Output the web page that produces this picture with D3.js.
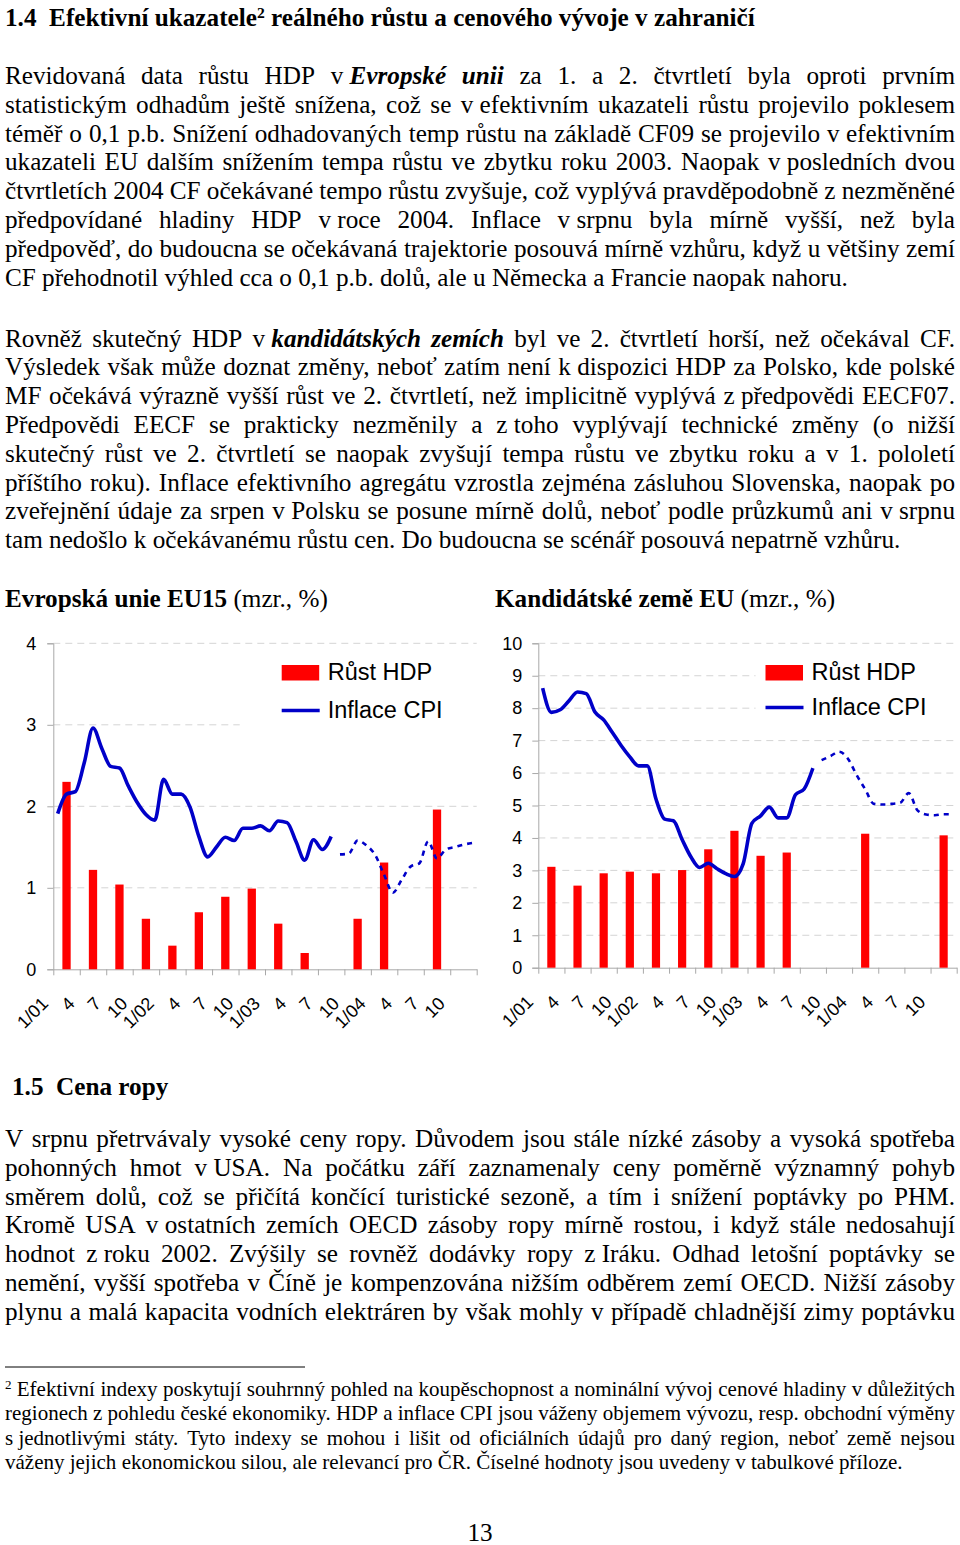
<!DOCTYPE html>
<html><head><meta charset="utf-8">
<script src="https://cdn.jsdelivr.net/npm/d3@7"></script>
<style>body{margin:0;background:#fff}svg{display:block}</style>
</head><body>
<script>
// ---------------- DATA ----------------
const tickLabels = ["1/01","4","7","10","1/02","4","7","10","1/03","4","7","10","1/04","4","7","10"];
const legendLabels = ["Růst HDP","Inflace CPI"];
// quarterly GDP growth (bars, drawn at mid-quarter month)
const euGdp = [2.30,1.22,1.04,0.62,0.29,0.70,0.89,0.99,0.56,0.20,null,0.62,1.31,null,1.96,null];
const ccGdp = [3.11,2.53,2.91,2.96,2.91,3.01,3.65,4.22,3.45,3.55,null,null,4.13,null,null,4.08];
// monthly CPI inflation, Jan 2001 - Aug 2003 (actual)
const euCpi = [1.91,2.15,2.18,2.53,2.96,2.71,2.49,2.47,2.25,2.05,1.90,1.83,2.33,2.15,2.15,1.99,1.63,1.38,1.50,1.62,1.58,1.73,1.73,1.76,1.70,1.82,1.80,1.57,1.34,1.59,1.47,1.63];
const ccCpi = [8.62,7.87,7.95,8.22,8.50,8.45,7.88,7.64,7.25,6.85,6.50,6.22,6.22,5.20,4.58,4.53,3.95,3.42,3.09,3.22,3.05,2.90,2.81,3.20,4.45,4.68,4.95,4.62,4.62,5.33,5.51,6.15];
// monthly CPI forecast, Sep 2003 - Dec 2004
const euCpiF = [1.41,1.42,1.58,1.52,1.40,1.16,0.94,1.10,1.26,1.30,1.57,1.36,1.47,1.50,1.53,1.55];
const ccCpiF = [6.40,6.52,6.66,6.45,5.95,5.50,5.05,5.03,5.05,5.08,5.38,4.85,4.72,4.70,4.73,4.73];

// ---------------- TEXT ----------------
// markup: § bold toggle, ¤ italic toggle, ^ superscript toggle, _ tight (non-stretch) space
const titleLine = "§1.4_ Efektivní ukazatele^2^ reálného růstu a cenového vývoje v_zahraničí§";
const para1 = [
"Revidovaná data růstu HDP v_§¤Evropské unii§¤ za 1. a 2. čtvrtletí byla oproti prvním",
"statistickým odhadům ještě snížena, což se v_efektivním ukazateli růstu projevilo poklesem",
"téměř o 0,1 p.b. Snížení odhadovaných temp růstu na základě CF09 se projevilo v_efektivním",
"ukazateli EU dalším snížením tempa růstu ve zbytku roku 2003. Naopak v_posledních dvou",
"čtvrtletích 2004 CF očekávané tempo růstu zvyšuje, což vyplývá pravděpodobně z_nezměněné",
"předpovídané hladiny HDP v_roce 2004. Inflace v_srpnu byla mírně vyšší, než byla",
"předpověď, do budoucna se očekávaná trajektorie posouvá mírně vzhůru, když u většiny zemí",
"CF přehodnotil výhled cca o 0,1 p.b. dolů, ale u Německa a Francie naopak nahoru."];
const para2 = [
"Rovněž skutečný HDP v_§¤kandidátských zemích§¤ byl ve 2. čtvrtletí horší, než očekával CF.",
"Výsledek však může doznat změny, neboť zatím není k_dispozici HDP za Polsko, kde polské",
"MF očekává výrazně vyšší růst ve 2. čtvrtletí, než implicitně vyplývá z_předpovědi EECF07.",
"Předpovědi EECF se prakticky nezměnily a z_toho vyplývají technické změny (o nižší",
"skutečný růst ve 2. čtvrtletí se naopak zvyšují tempa růstu ve zbytku roku a v 1. pololetí",
"příštího roku). Inflace efektivního agregátu vzrostla zejména zásluhou Slovenska, naopak po",
"zveřejnění údaje za srpen v_Polsku se posune mírně dolů, neboť podle průzkumů ani v_srpnu",
"tam nedošlo k_očekávanému růstu cen. Do budoucna se scénář posouvá nepatrně vzhůru."];
const chartTitles = ["§Evropská unie EU15§ (mzr., %)","§Kandidátské země EU§ (mzr., %)"];
const section2 = "§1.5_ Cena ropy§";
const para3 = [
"V srpnu přetrvávaly vysoké ceny ropy. Důvodem jsou stále nízké zásoby a vysoká spotřeba",
"pohonných hmot v_USA. Na počátku září zaznamenaly ceny poměrně významný pohyb",
"směrem dolů, což se přičítá končící turistické sezoně, a tím i snížení poptávky po PHM.",
"Kromě USA v_ostatních zemích OECD zásoby ropy mírně rostou, i když stále nedosahují",
"hodnot z_roku 2002. Zvýšily se rovněž dodávky ropy z_Iráku. Odhad letošní poptávky se",
"nemění, vyšší spotřeba v Číně je kompenzována nižším odběrem zemí OECD. Nižší zásoby",
"plynu a malá kapacita vodních elektráren by však mohly v případě chladnější zimy poptávku"];
const footnote = [
"^2^_Efektivní indexy poskytují souhrnný pohled na koupěschopnost a nominální vývoj cenové hladiny v_důležitých",
"regionech z_pohledu české ekonomiky. HDP a inflace CPI jsou váženy objemem vývozu, resp. obchodní výměny",
"s_jednotlivými státy. Tyto indexy se mohou i lišit od oficiálních údajů pro daný region, neboť země nejsou",
"váženy jejich ekonomickou silou, ale relevancí pro ČR. Číselné hodnoty jsou uvedeny v tabulkové příloze."];
const pageNumber = "13";

// ---------------- LAYOUT ----------------
const W = 960, H = 1545;
const SERIF = "'Liberation Serif','Times New Roman',serif";
const SANS = "'Liberation Sans',Arial,sans-serif";
const svg = d3.select("body").append("svg").attr("width", W).attr("height", H);
svg.append("rect").attr("width", W).attr("height", H).attr("fill", "#fff");

function parseWords(str) {
  let b=false,it=false,sup=false; const chars=[];
  for (const ch of str) {
    if (ch==="§") {b=!b;continue;} if (ch==="¤") {it=!it;continue;} if (ch==="^") {sup=!sup;continue;}
    chars.push({c:ch,b,it,sup});
  }
  const words=[]; let cur=[];
  chars.forEach(o=>{ if(o.c===" "){ if(cur.length) words.push(cur); cur=[]; } else cur.push(o.c==="_"?{...o,c:"\u00a0"}:o); });
  if(cur.length) words.push(cur);
  return words.map(w=>{ const runs=[]; w.forEach(o=>{ const l=runs[runs.length-1]; if(l&&l.b===o.b&&l.it===o.it&&l.sup===o.sup) l.t+=o.c; else runs.push({t:o.c,b:o.b,it:o.it,sup:o.sup}); }); return runs; });
}
function textLine(g, str, x, y, size, opts={}) {
  const words = parseWords(str);
  const nodes = words.map(runs=>{
    const t = g.append("text").attr("y", y).attr("font-family", opts.family||SERIF).attr("font-size", size).attr("fill","#000");
    runs.forEach(r=>{
      const ts = t.append("tspan").text(r.t);
      if (r.b) ts.attr("font-weight","bold");
      if (r.it) ts.attr("font-style","italic");
      if (r.sup) ts.attr("font-size", size*0.62).attr("baseline-shift","super");
    });
    return t;
  });
  const widths = nodes.map(n=>n.node().getComputedTextLength());
  const probe = g.append("text").attr("font-family", opts.family||SERIF).attr("font-size", size).attr("xml:space","preserve").text("a a");
  const probe2 = g.append("text").attr("font-family", opts.family||SERIF).attr("font-size", size).text("aa");
  const sp = probe.node().getComputedTextLength()-probe2.node().getComputedTextLength();
  probe.remove(); probe2.remove();
  const gap = (opts.width && nodes.length>1) ? (opts.width-d3.sum(widths))/(nodes.length-1) : sp;
  let cx = x;
  nodes.forEach((n,i)=>{ n.attr("x", cx); cx += widths[i]+gap; });
}
function paragraph(lines, y0, step, size) {
  const g = svg.append("g");
  lines.forEach((l,i)=>textLine(g, l, 5, y0+i*step, size, {width: i<lines.length-1 ? 950 : null}));
}
const BODY = 25.2;
textLine(svg.append("g"), titleLine, 5, 26, BODY);
paragraph(para1, 84, 28.8, BODY);
paragraph(para2, 346.5, 28.8, BODY);
textLine(svg.append("g"), chartTitles[0], 5, 607, BODY);
textLine(svg.append("g"), chartTitles[1], 495, 607, BODY);
textLine(svg.append("g"), section2, 12, 1095, BODY);
{
  const g = svg.append("g");
  para3.forEach((l,i)=>textLine(g, l, 5, 1147+i*28.8, BODY, {width:950}));
}
svg.append("line").attr("x1",5).attr("x2",305).attr("y1",1367).attr("y2",1367).attr("stroke","#000").attr("stroke-width",1);
{
  const g = svg.append("g");
  footnote.forEach((l,i)=>textLine(g, l, 5, 1396+i*24.3, 21, {width: i<footnote.length-1?950:null}));
}
svg.append("text").attr("x",480).attr("y",1541).attr("text-anchor","middle").attr("font-family",SERIF).attr("font-size",BODY).text(pageNumber);

// ---------------- CHARTS ----------------
function chart(cfg) {
  const g = svg.append("g").attr("font-family", SANS);
  const y = d3.scaleLinear().domain([0, cfg.ymax]).range([cfg.y0, cfg.y1]);
  const xb = d3.scaleLinear().domain([0,48]).range([cfg.x0, cfg.x1]);
  const xm = d3.scaleBand().domain(d3.range(48)).range([cfg.x0, cfg.x1]).padding(0);
  const bw = xm.bandwidth()*0.94;
  // grid
  g.append("g").selectAll("line").data(d3.range(1, cfg.ymax+1)).join("line")
    .attr("x1", cfg.x0).attr("x2", cfg.x1).attr("y1", d=>y(d)).attr("y2", d=>y(d))
    .attr("stroke","#d4d4d4").attr("stroke-width",1).attr("stroke-dasharray","7,5");
  // legend background
  g.append("rect").attr("x", cfg.legX - cfg.legPad).attr("y", 652).attr("width", cfg.x1 - cfg.legX + cfg.legPad + 2).attr("height", 78).attr("fill","#fff");
  // axes
  const ya = d3.axisLeft(y).ticks(cfg.ymax).tickSize(6).tickPadding(cfg.tickPad).tickFormat(d3.format("d"));
  const yg = g.append("g").attr("transform",`translate(${cfg.x0},0)`).call(ya);
  yg.select(".domain").attr("stroke","#a8a8a8");
  yg.selectAll(".tick line").attr("stroke","#a8a8a8");
  yg.selectAll(".tick text").attr("font-size",18).attr("fill","#000").attr("font-family",SANS);
  const xa = d3.axisBottom(xb).tickValues(d3.range(0,49,3)).tickSize(6).tickSizeOuter(0).tickFormat((d,i)=>tickLabels[i]||"");
  const xg = g.append("g").attr("transform",`translate(0,${cfg.y0})`).call(xa);
  xg.select(".domain").attr("stroke","#a8a8a8");
  xg.selectAll(".tick line").attr("stroke","#a8a8a8");
  xg.selectAll(".tick text").attr("font-size",18).attr("fill","#000").attr("font-family",SANS)
    .attr("x",0).attr("y",0).attr("dy","0.35em").attr("text-anchor","end")
    .attr("transform","translate(-9,31) rotate(-45)");
  // bars
  const bars = cfg.gdp.map((v,q)=>({m:q*3+1,v})).filter(d=>d.v!=null);
  g.append("g").selectAll("rect").data(bars).join("rect")
    .attr("x", d=>xm(d.m)+(xm.bandwidth()-bw)/2).attr("width", bw)
    .attr("y", d=>y(d.v)).attr("height", d=>y(0)-y(d.v)).attr("fill","#ff0000");
  // lines
  const line = d3.line().x(d=>xm(d.m)+xm.bandwidth()/2).y(d=>y(d.v)).curve(d3.curveMonotoneX);
  g.append("path").datum(cfg.cpi.map((v,i)=>({m:i,v}))).attr("d", line)
    .attr("fill","none").attr("stroke","#0000c8").attr("stroke-width",3.6).attr("stroke-linejoin","round");
  g.append("path").datum(cfg.cpiF.map((v,i)=>({m:i+32,v}))).attr("d", line)
    .attr("fill","none").attr("stroke","#0000c8").attr("stroke-width",2.6).attr("stroke-dasharray","5,5");
  // legend
  const lg = g.append("g").attr("font-size",23.5);
  lg.append("rect").attr("x", cfg.legX).attr("y", 665).attr("width", 37.5).attr("height", 15.5).attr("fill","#ff0000");
  lg.append("text").attr("x", cfg.legX+46).attr("y", 680).text(legendLabels[0]);
  lg.append("line").attr("x1", cfg.legX).attr("x2", cfg.legX+38).attr("y1", cfg.legLineY).attr("y2", cfg.legLineY).attr("stroke","#0000c8").attr("stroke-width",3.5);
  lg.append("text").attr("x", cfg.legX+46).attr("y", cfg.legLineY+7.5).text(legendLabels[1]);
}
chart({x0:53.3, x1:476.7, y0:969.3, y1:643.3, ymax:4, gdp:euGdp, cpi:euCpi, cpiF:euCpiF, tickPad:11, legX:281.7, legPad:42, legLineY:710.5});
chart({x0:538.3, x1:956.7, y0:967.7, y1:643.3, ymax:10, gdp:ccGdp, cpi:ccCpi, cpiF:ccCpiF, tickPad:10, legX:765.5, legPad:10, legLineY:707.5});
</script>
</body></html>
